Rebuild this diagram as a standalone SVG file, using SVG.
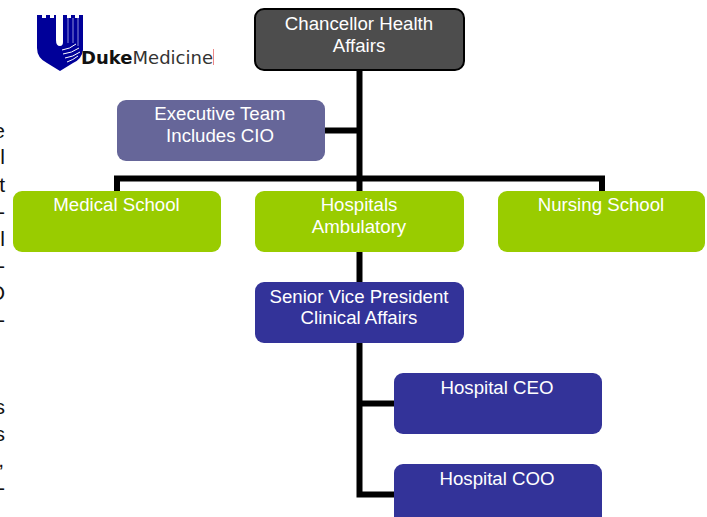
<svg xmlns="http://www.w3.org/2000/svg" width="707" height="517" viewBox="0 0 707 517">
<style>
.t{font-family:"Liberation Sans",Arial,sans-serif;font-size:18.67px;fill:#fff;text-anchor:middle}
.b{font-family:"Liberation Sans",Arial,sans-serif;font-size:21px;fill:#111;text-anchor:end}
.c{stroke:#000;stroke-width:6;fill:none}
</style>
<rect width="707" height="517" fill="#fff"/>
<g id="clipped-text">
<text class="b" x="5" y="138">e</text>
<text class="b" x="5" y="164">l</text>
<text class="b" x="5" y="192">t</text>
<text class="b" x="5" y="219">-</text>
<text class="b" x="5" y="246">l</text>
<text class="b" x="5" y="273">-</text>
<text class="b" x="5" y="300">O</text>
<text class="b" x="5" y="327">-</text>
<text class="b" x="5" y="414">s</text>
<text class="b" x="5" y="441">s</text>
<text class="b" x="4" y="467">,</text>
<text class="b" x="5" y="495">-</text>
</g>
<g id="logo">
<path d="M37 15H42V18H46V15H50V18H54V15H56V40Q56 46 60 46Q63 46 63 42V15H67V18H71V15H75V18H79V15H83V50Q82 59 73 63L60 71L47 63Q37 58 37 48Z" fill="#000099"/>
<path d="M68 18V43M73 18V43M78 18V46" stroke="#8c8cd8" stroke-width="1" fill="none"/>
<path d="M62 50Q70 49 76 44M63 54Q72 53 79 48M65 58Q73 57 80 52M67 62Q73 60 78 56" stroke="#fff" stroke-width="1" fill="none"/>
<text x="81" y="64" font-family="'DejaVu Sans',sans-serif" font-size="17.5" fill="#111" textLength="132" lengthAdjust="spacingAndGlyphs"><tspan font-weight="bold">Duke</tspan><tspan fill="#333">Medicine</tspan></text>
<path d="M213.500 49V65" stroke="#e88" stroke-width="1"/>
</g>
<g id="connectors">
<path class="c" d="M359.500 70V192"/>
<path class="c" d="M325 130.500H359.500"/>
<path class="c" d="M117 192V178.500H602V192"/>
<path class="c" d="M359.500 251V283"/>
<path class="c" d="M359.500 342V494.500H394"/>
<path class="c" d="M359.500 403.500H394"/>
</g>
<g id="chancellor"><rect x="255" y="9" width="209" height="61" rx="9" fill="#4d4d4d" stroke="#000" stroke-width="2"/><text class="t" x="359" y="30">Chancellor Health</text><text class="t" x="359" y="52">Affairs</text></g>
<g id="executive"><rect x="117" y="100" width="208" height="61" rx="9" fill="#666699"/><text class="t" x="220" y="120">Executive Team</text><text class="t" x="220" y="142">Includes CIO</text></g>
<g id="medical"><rect x="13" y="191" width="208" height="61" rx="9" fill="#99cc00"/><text class="t" x="116.500" y="211">Medical School</text></g>
<g id="hospitals"><rect x="255" y="191" width="209" height="61" rx="9" fill="#99cc00"/><text class="t" x="359" y="211">Hospitals</text><text class="t" x="359" y="233">Ambulatory</text></g>
<g id="nursing"><rect x="498" y="191" width="207" height="61" rx="9" fill="#99cc00"/><text class="t" x="601" y="211">Nursing School</text></g>
<g id="svp"><rect x="255" y="282" width="209" height="61" rx="9" fill="#333399"/><text class="t" x="359" y="303">Senior Vice President</text><text class="t" x="359" y="324">Clinical Affairs</text></g>
<g id="ceo"><rect x="394" y="373" width="208" height="61" rx="9" fill="#333399"/><text class="t" x="497" y="394">Hospital CEO</text></g>
<g id="coo"><rect x="394" y="464" width="208" height="61" rx="9" fill="#333399"/><text class="t" x="497" y="485">Hospital COO</text></g>
</svg>
